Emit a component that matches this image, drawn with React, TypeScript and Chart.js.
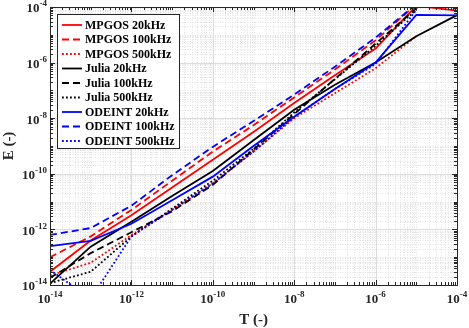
import { useEffect, useRef } from 'react';
import { Chart, registerables } from 'chart.js';

Chart.register(...registerables);

// ---- data ----
const T = [1e-14, 1e-13, 1e-12, 1e-11, 1e-10, 1e-9, 1e-8, 1e-7, 1e-6, 1e-5, 1e-4];

const mpgos20k = [3.0e-14, 4.0e-13, 3.2e-12, 3.2e-11, 3.2e-10, 3.2e-9, 3.5e-8, 3.5e-7, 3.2e-6, 1.1e-4, 7.4e-5];
const mpgos100k = [1.0e-13, 5.6e-13, 5.0e-12, 5.6e-11, 6.3e-10, 5.6e-9, 5.6e-8, 5.6e-7, 6.3e-6, 1.26e-4, 2.5e-4];
const mpgos500k = [2.2e-14, 6.3e-14, 6.3e-13, 5.0e-12, 4.5e-11, 6.3e-10, 1.0e-8, 7.9e-8, 6.3e-7, 8.9e-6];
const julia20k = [1.12e-14, 2.4e-13, 1.9e-12, 1.6e-11, 1.26e-10, 1.6e-9, 2.0e-8, 1.6e-7, 1.0e-6, 8.9e-6, 5.1e-5];
const julia100k = [1.8e-14, 1.4e-13, 7.9e-13, 4.5e-12, 4.0e-11, 7.4e-10, 1.4e-8, 2.6e-7, 4.8e-6, 8.9e-5, 2.0e-4];
const julia500k = [1.17e-14, 3.0e-14, 5.5e-13, 5.6e-12, 5.6e-11, 7.9e-10, 1.6e-8, 2.5e-7, 4.0e-6, 7.9e-5];
const odeint20k = [2.5e-13, 3.9e-13, 1.6e-12, 1.12e-11, 7.9e-11, 1.0e-9, 1.12e-8, 1.12e-7, 1.0e-6, 5.2e-5, 5.0e-5];
const odeint100k = [6.3e-13, 1.12e-12, 7.1e-12, 8.9e-11, 9.3e-10, 7.9e-9, 7.1e-8, 7.1e-7, 7.9e-6, 1.26e-4, 2.0e-4];
const odeint500k = [3.5e-14, 3.2e-15, 5.6e-13, 5.0e-12, 4.5e-11, 6.3e-10, 1.12e-8, 1.12e-7, 8.9e-7, 7.9e-5];

const seriesLabels = [
  'MPGOS 20kHz', 'MPGOS 100kHz', 'MPGOS 500kHz',
  'Julia 20kHz', 'Julia 100kHz', 'Julia 500kHz',
  'ODEINT 20kHz', 'ODEINT 100kHz', 'ODEINT 500kHz',
];
const seriesValues = [mpgos20k, mpgos100k, mpgos500k, julia20k, julia100k, julia500k, odeint20k, odeint100k, odeint500k];

const xTickExps = [-14, -12, -10, -8, -6, -4];
const yTickExps = [-14, -12, -10, -8, -6, -4];
const minorMultiples = [2, 3, 4, 5, 6, 7, 8, 9];
const axisMin = 1e-14;
const axisMax = 1e-4;
const xTitle = 'T (-)';
const yTitle = 'E (-)';

// ---- styles ----
const colors = ['#ff0000', '#ff0000', '#ff0000', '#000000', '#000000', '#000000', '#0000ff', '#0000ff', '#0000ff'];
const dashSolid: number[] = [];
const dashDashed = [7, 4];
const dashDotted = [1.8, 2.2];
const dashes = [dashSolid, dashDashed, dashDotted, dashSolid, dashDashed, dashDotted, dashSolid, dashDashed, dashDotted];
const FONT = '"Liberation Serif", "Times New Roman", serif';
const AXIS_COLOR = '#262626';

function buildLogTicks(majorExps: number[]) {
  const lo = Math.round(Math.log10(axisMin));
  const hi = Math.round(Math.log10(axisMax));
  const ticks: { value: number; major: boolean }[] = [];
  for (let e = lo; e <= hi; e++) {
    const base = Math.pow(10, e);
    ticks.push({ value: base, major: majorExps.includes(e) });
    if (e < hi) for (const m of minorMultiples) ticks.push({ value: m * base, major: false });
  }
  return ticks;
}

const matlabAxes = {
  id: 'matlabAxes',
  beforeDatasetsDraw(chart: any) {
    const { ctx, chartArea: a, scales } = chart;
    const x = scales.x, y = scales.y;
    ctx.save();
    ctx.beginPath();
    ctx.rect(a.left, a.top, a.right - a.left, a.bottom - a.top);
    ctx.clip();
    ctx.lineWidth = 1;
    const pass = (major: boolean) => {
      ctx.strokeStyle = major ? '#dcdcdc' : '#e2e2e2';
      ctx.setLineDash(major ? [] : [1, 1.5]);
      for (const t of x.ticks) {
        if (!!t.major !== major) continue;
        const px = Math.round(x.getPixelForValue(t.value)) + 0.5;
        ctx.beginPath(); ctx.moveTo(px, a.top); ctx.lineTo(px, a.bottom); ctx.stroke();
      }
      for (const t of y.ticks) {
        if (!!t.major !== major) continue;
        const py = Math.round(y.getPixelForValue(t.value)) + 0.5;
        ctx.beginPath(); ctx.moveTo(a.left, py); ctx.lineTo(a.right, py); ctx.stroke();
      }
    };
    pass(false);
    pass(true);
    ctx.restore();
  },
  afterDatasetsDraw(chart: any) {
    const { ctx, chartArea: a, scales } = chart;
    const x = scales.x, y = scales.y;
    ctx.save();
    ctx.setLineDash([]);
    ctx.strokeStyle = AXIS_COLOR;
    ctx.lineWidth = 1;
    // ticks (inward, all sides)
    for (const t of x.ticks) {
      const px = Math.round(x.getPixelForValue(t.value)) + 0.5;
      const len = t.major ? 5 : 3;
      ctx.beginPath();
      ctx.moveTo(px, a.bottom); ctx.lineTo(px, a.bottom - len);
      ctx.moveTo(px, a.top); ctx.lineTo(px, a.top + len);
      ctx.stroke();
    }
    for (const t of y.ticks) {
      const py = Math.round(y.getPixelForValue(t.value)) + 0.5;
      const len = t.major ? 5 : 3;
      ctx.beginPath();
      ctx.moveTo(a.left, py); ctx.lineTo(a.left + len, py);
      ctx.moveTo(a.right, py); ctx.lineTo(a.right - len, py);
      ctx.stroke();
    }
    // box
    ctx.strokeRect(Math.round(a.left) + 0.5, Math.round(a.top) + 0.5, Math.round(a.right - a.left), Math.round(a.bottom - a.top));

    // tick labels
    ctx.fillStyle = AXIS_COLOR;
    ctx.textBaseline = 'middle';
    const baseFont = `bold 13px ${FONT}`;
    const expFont = `bold 9px ${FONT}`;
    for (const e of xTickExps) {
      const px = x.getPixelForValue(Math.pow(10, e));
      ctx.font = baseFont;
      const wb = ctx.measureText('10').width;
      ctx.font = expFont;
      const we = ctx.measureText(String(e)).width;
      const left = px - (wb + we) / 2;
      ctx.textAlign = 'left';
      ctx.font = baseFont;
      ctx.fillText('10', left, a.bottom + 15);
      ctx.font = expFont;
      ctx.fillText(String(e), left + wb, a.bottom + 10);
    }
    for (const e of yTickExps) {
      const py = y.getPixelForValue(Math.pow(10, e));
      ctx.font = expFont;
      const we = ctx.measureText(String(e)).width;
      const right = a.left - 3;
      ctx.textAlign = 'left';
      ctx.fillText(String(e), right - we, py - 3);
      ctx.font = baseFont;
      ctx.textAlign = 'right';
      ctx.fillText('10', right - we, py + 2);
    }
    // axis titles
    ctx.font = `bold 15px ${FONT}`;
    ctx.textAlign = 'center';
    ctx.fillText(xTitle, (a.left + a.right) / 2, a.bottom + 35);
    ctx.save();
    ctx.translate(9, (a.top + a.bottom) / 2);
    ctx.rotate(-Math.PI / 2);
    ctx.fillText(yTitle, 0, 0);
    ctx.restore();

    // legend
    ctx.font = `bold 12px ${FONT}`;
    let maxW = 0;
    for (const l of seriesLabels) maxW = Math.max(maxW, ctx.measureText(l).width);
    const lx = a.left + 7, ly = a.top + 7;
    const lw = 28 + maxW + 4;
    const rowH = 14.5;
    const lh = 11 + rowH * (seriesLabels.length - 1) + 7;
    ctx.fillStyle = '#ffffff';
    ctx.fillRect(Math.round(lx), Math.round(ly), Math.round(lw), Math.round(lh));
    ctx.strokeStyle = AXIS_COLOR;
    ctx.lineWidth = 1;
    ctx.strokeRect(Math.round(lx) + 0.5, Math.round(ly) + 0.5, Math.round(lw), Math.round(lh));
    chart.data.datasets.forEach((ds: any, i: number) => {
      const ry = ly + 11 + i * rowH;
      ctx.strokeStyle = ds.borderColor;
      ctx.lineWidth = ds.borderWidth;
      ctx.setLineDash(ds.borderDash || []);
      ctx.beginPath();
      ctx.moveTo(lx + 5, ry); ctx.lineTo(lx + 25, ry);
      ctx.stroke();
      ctx.setLineDash([]);
      ctx.fillStyle = '#000000';
      ctx.textAlign = 'left';
      ctx.textBaseline = 'middle';
      ctx.fillText(ds.label, lx + 28, ry + 0.5);
    });
    ctx.restore();
  },
};

export default function App() {
  const ref = useRef<HTMLCanvasElement>(null);
  useEffect(() => {
    document.body.style.margin = '0';
    const canvas = ref.current;
    if (!canvas) return;
    const datasets = seriesLabels.map((label, i) => ({
      label,
      data: seriesValues[i].map((v, k) => ({ x: T[k], y: v })),
      borderColor: colors[i],
      backgroundColor: colors[i],
      borderWidth: 1.8,
      borderDash: dashes[i],
      pointRadius: 0,
      fill: false,
      tension: 0,
      order: seriesLabels.length - i,
    }));
    const chart = new Chart(canvas, {
      type: 'line',
      data: { datasets },
      options: {
        animation: false,
        responsive: false,
        maintainAspectRatio: false,
        layout: { padding: { top: 7, right: 12, left: 0, bottom: 0 } },
        plugins: { legend: { display: false }, tooltip: { enabled: false } },
        scales: {
          x: {
            type: 'logarithmic',
            min: axisMin,
            max: axisMax,
            ticks: { display: false },
            grid: { display: false },
            border: { display: false },
            afterBuildTicks: (s: any) => { s.ticks = buildLogTicks(xTickExps); },
            afterFit: (s: any) => { s.height = 43; },
          },
          y: {
            type: 'logarithmic',
            min: axisMin,
            max: axisMax,
            ticks: { display: false },
            grid: { display: false },
            border: { display: false },
            afterBuildTicks: (s: any) => { s.ticks = buildLogTicks(yTickExps); },
            afterFit: (s: any) => { s.width = 50; },
          },
        },
      },
      plugins: [matlabAxes],
    } as any);
    return () => chart.destroy();
  }, []);
  return (
    <div style={{ width: 469, height: 328, background: '#ffffff' }}>
      <canvas ref={ref} width={469} height={328} style={{ display: 'block' }} />
    </div>
  );
}
